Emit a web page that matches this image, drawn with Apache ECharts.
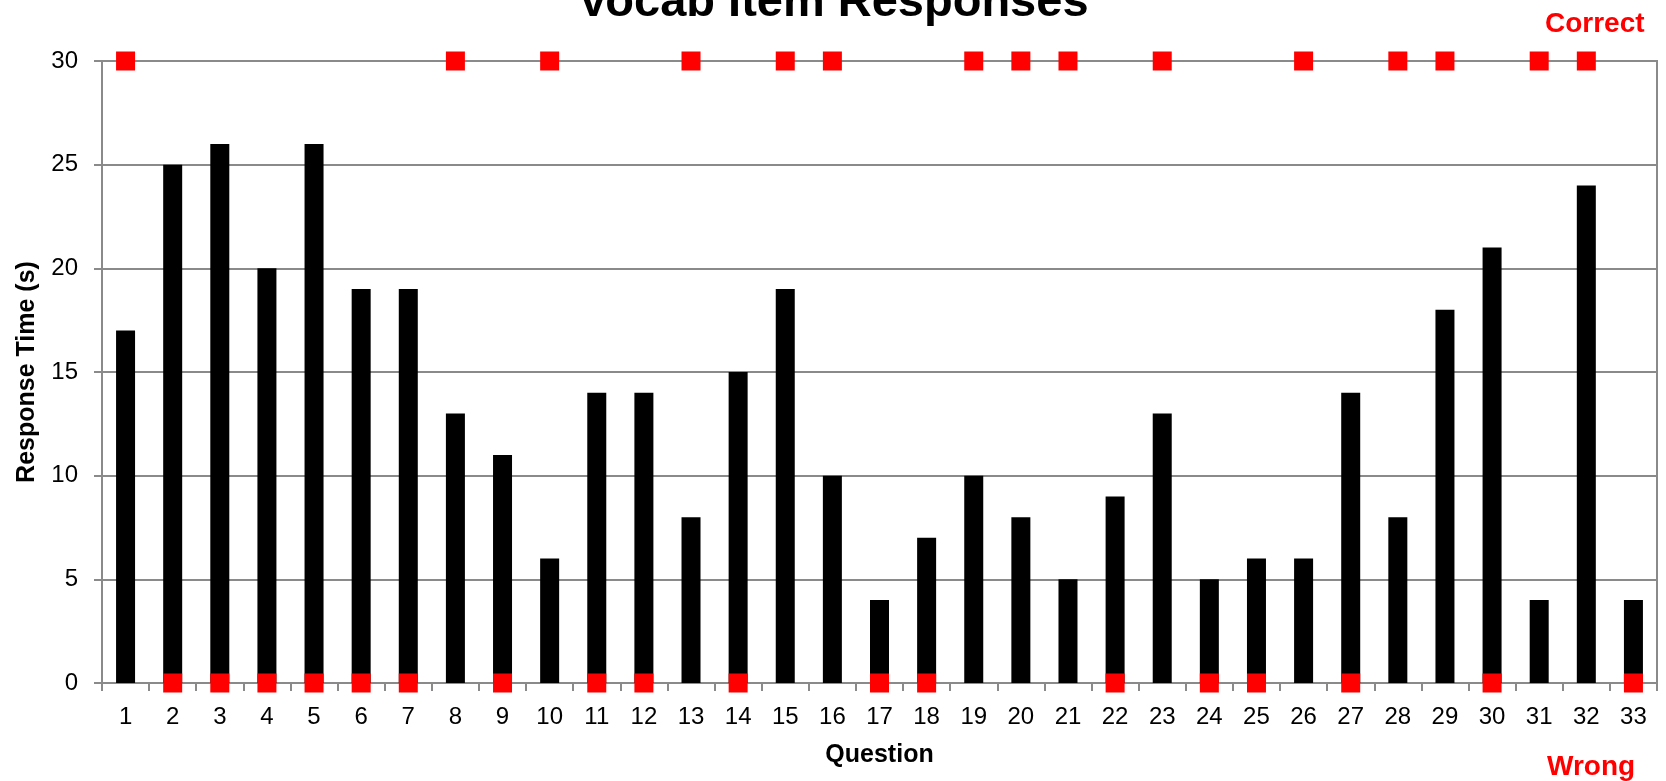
<!DOCTYPE html>
<html>
<head>
<meta charset="utf-8">
<script src="https://cdn.jsdelivr.net/npm/echarts@6/dist/echarts.min.js"></script>
<style>
  html, body { margin: 0; padding: 0; background: #fff; }
  #main { width: 1666px; height: 781px; }
</style>
</head>
<body>
<div id="main"></div>
<script>
// question numbers
var questions = ['1','2','3','4','5','6','7','8','9','10','11','12','13','14','15','16','17',
  '18','19','20','21','22','23','24','25','26','27','28','29','30','31','32','33'];
// response time in seconds
var responseTimes = [17,25,26,20,26,19,19,13,11,6,14,14,8,15,19,10,4,7,10,8,5,9,13,5,6,6,14,8,18,21,4,24,4];
// 1 = correct, 0 = wrong
var answered = [1,0,0,0,0,0,0,1,0,1,0,0,1,0,1,1,0,0,1,1,1,0,1,0,0,1,0,1,1,0,1,1,0];
var yTicks = { min: 0, max: 30, step: 5 };

var correctData = answered.map(function (a) { return a === 1 ? yTicks.max : '-'; });
var wrongData = answered.map(function (a) { return a === 0 ? yTicks.min : '-'; });

var font = 'Liberation Sans, Arial, sans-serif';
var gray = '#8a8a8a';

var chart = echarts.init(document.getElementById('main'));
var option = {
  animation: false,
  backgroundColor: '#fff',
  textStyle: { fontFamily: font },
  title: {
    text: 'Vocab Item Responses',
    left: 'center',
    top: -25,
    textStyle: { fontFamily: font, fontSize: 47, fontWeight: 'bold', color: '#000' }
  },
  graphic: [
    { type: 'text', left: 1545, top: 10,
      style: { text: 'Correct', fill: '#ff0000', font: 'bold 28px ' + font } },
    { type: 'text', left: 1547, top: 753,
      style: { text: 'Wrong', fill: '#ff0000', font: 'bold 28px ' + font } }
  ],
  grid: {
    left: 102, right: 9, top: 61, bottom: 98,
    show: true, borderColor: gray, borderWidth: 2
  },
  xAxis: {
    type: 'category',
    data: questions,
    name: 'Question',
    nameLocation: 'middle',
    nameGap: 60,
    nameTextStyle: { fontFamily: font, fontSize: 25, fontWeight: 'bold', color: '#000' },
    axisLine: { lineStyle: { color: gray, width: 2 } },
    axisTick: { show: true, length: 8, lineStyle: { color: gray, width: 2 } },
    axisLabel: { fontFamily: font, fontSize: 24, color: '#000', margin: 22 },
    splitLine: { show: false }
  },
  yAxis: {
    type: 'value',
    min: yTicks.min,
    max: yTicks.max,
    interval: yTicks.step,
    name: 'Response Time (s)',
    nameLocation: 'middle',
    nameGap: 62,
    nameTextStyle: { fontFamily: font, fontSize: 25, fontWeight: 'bold', color: '#000' },
    axisLine: { show: true, lineStyle: { color: gray, width: 2 } },
    axisTick: { show: true, length: 8, lineStyle: { color: gray, width: 2 } },
    axisLabel: { fontFamily: font, fontSize: 24, color: '#000', margin: 24 },
    splitLine: { show: true, lineStyle: { color: gray, width: 2 } }
  },
  series: [
    {
      name: 'Response Time',
      type: 'bar',
      data: responseTimes,
      barWidth: 19,
      itemStyle: { color: '#000' },
      z: 2
    },
    {
      name: 'Correct',
      type: 'scatter',
      data: correctData,
      symbol: 'rect',
      symbolSize: 19,
      itemStyle: { color: '#ff0000', opacity: 1 },
      clip: false,
      z: 5
    },
    {
      name: 'Wrong',
      type: 'scatter',
      data: wrongData,
      symbol: 'rect',
      symbolSize: 19,
      itemStyle: { color: '#ff0000', opacity: 1 },
      clip: false,
      z: 5
    }
  ]
};
chart.setOption(option);
</script>
</body>
</html>
